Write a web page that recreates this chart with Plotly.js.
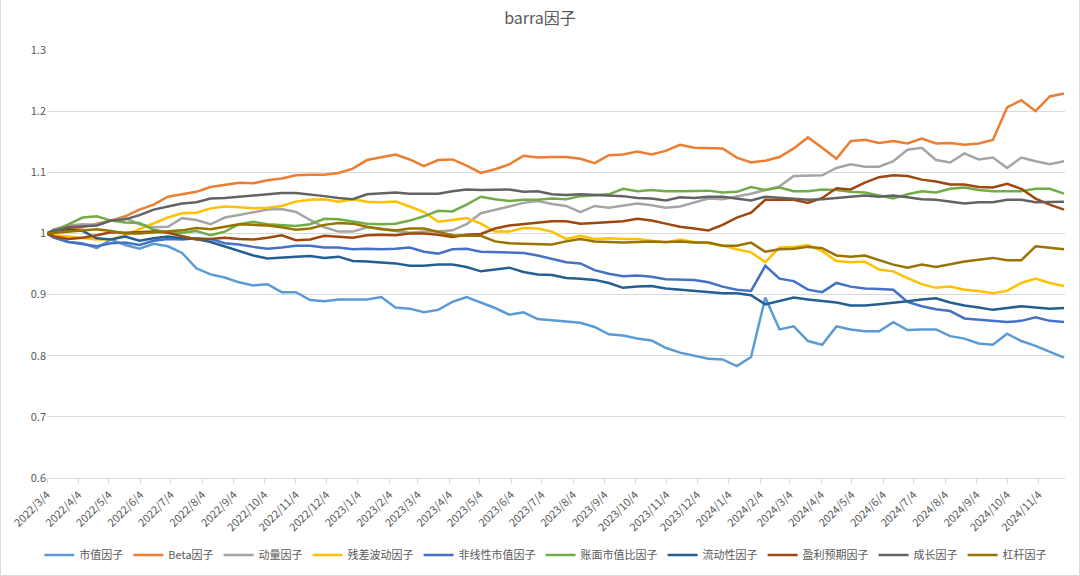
<!DOCTYPE html>
<html>
<head>
<meta charset="utf-8">
<script src="https://cdn.plot.ly/plotly-3.0.1.min.js"></script>
<style>
  body { margin: 0; background: #ffffff; }
  #myDiv { width: 1080px; height: 576px; }
</style>
</head>
<body>
<div id="myDiv"></div>
<script>
var dates = ['2022-03-04','2022-03-11','2022-03-25','2022-04-08','2022-04-22','2022-05-06','2022-05-20','2022-06-03','2022-06-17','2022-07-01',
  '2022-07-15','2022-07-29','2022-08-12','2022-08-26','2022-09-09','2022-09-23','2022-10-07','2022-10-21','2022-11-04','2022-11-18',
  '2022-12-02','2022-12-16','2022-12-30','2023-01-13','2023-01-27','2023-02-10','2023-02-24','2023-03-10','2023-03-24','2023-04-07',
  '2023-04-21','2023-05-05','2023-05-19','2023-06-02','2023-06-16','2023-06-30','2023-07-14','2023-07-28','2023-08-11','2023-08-25',
  '2023-09-08','2023-09-22','2023-10-06','2023-10-20','2023-11-03','2023-11-17','2023-12-01','2023-12-15','2023-12-29','2024-01-12',
  '2024-01-26','2024-02-09','2024-02-23','2024-03-08','2024-03-22','2024-04-05','2024-04-19','2024-05-03','2024-05-17','2024-05-31',
  '2024-06-14','2024-06-28','2024-07-12','2024-07-26','2024-08-09','2024-08-23','2024-09-06','2024-09-20','2024-10-04','2024-10-18',
  '2024-11-01','2024-11-15','2024-11-29'];

var names = ['市值因子','Beta因子','动量因子','残差波动因子','非线性市值因子','账面市值比因子','流动性因子','盈利预期因子','成长因子','杠杆因子'];
var colors = ['#5B9BD5','#ED7D31','#A5A5A5','#FFC000','#4472C4','#70AD47','#255E91','#9E480E','#636363','#997300'];

var size = [1.0,0.993,0.986,0.984,0.976,0.990,0.981,0.975,0.983,0.979,
  0.968,0.943,0.933,0.928,0.920,0.915,0.917,0.904,0.904,0.891,
  0.889,0.892,0.892,0.892,0.896,0.879,0.877,0.871,0.875,0.888,
  0.896,0.887,0.878,0.867,0.871,0.860,0.858,0.857,0.854,0.847,
  0.835,0.833,0.828,0.825,0.813,0.805,0.800,0.795,0.794,0.783,
  0.798,0.895,0.843,0.848,0.824,0.818,0.848,0.843,0.840,0.840,
  0.855,0.842,0.843,0.843,0.832,0.828,0.820,0.818,0.836,0.824,
  0.816,0.807,0.797];

var beta = [1.0,1.002,1.005,1.010,1.016,1.021,1.028,1.039,1.047,1.060,
  1.064,1.068,1.076,1.080,1.083,1.082,1.087,1.090,1.095,1.096,
  1.096,1.099,1.106,1.120,1.125,1.129,1.121,1.110,1.120,1.121,
  1.111,1.099,1.105,1.113,1.127,1.124,1.125,1.125,1.122,1.115,
  1.128,1.129,1.134,1.129,1.135,1.145,1.140,1.139,1.139,1.124,
  1.116,1.119,1.125,1.139,1.157,1.140,1.122,1.151,1.153,1.148,
  1.151,1.147,1.155,1.147,1.148,1.145,1.147,1.153,1.206,1.218,
  1.200,1.224,1.229];

var momentum = [1.0,1.007,1.013,1.015,1.014,1.021,1.025,1.015,1.010,1.011,
  1.025,1.022,1.015,1.026,1.030,1.034,1.039,1.040,1.035,1.022,
  1.010,1.003,1.003,1.010,1.008,1.004,1.001,1.003,1.003,1.005,
  1.015,1.033,1.038,1.044,1.050,1.053,1.048,1.045,1.035,1.045,
  1.042,1.046,1.049,1.046,1.042,1.044,1.051,1.057,1.056,1.060,
  1.065,1.071,1.077,1.094,1.094,1.095,1.107,1.113,1.109,1.109,
  1.118,1.137,1.140,1.120,1.116,1.131,1.121,1.124,1.107,1.124,
  1.118,1.113,1.118];

var residVol = [1.0,0.997,0.995,0.992,0.990,0.990,0.997,1.007,1.017,1.026,
  1.033,1.034,1.041,1.044,1.043,1.041,1.042,1.045,1.052,1.055,
  1.056,1.052,1.056,1.052,1.051,1.052,1.044,1.035,1.019,1.022,
  1.025,1.016,1.003,1.003,1.009,1.008,1.003,0.991,0.996,0.991,
  0.992,0.991,0.991,0.988,0.985,0.990,0.986,0.984,0.980,0.974,
  0.969,0.953,0.977,0.978,0.981,0.971,0.955,0.953,0.954,0.941,
  0.938,0.927,0.917,0.911,0.913,0.908,0.906,0.902,0.906,0.919,
  0.926,0.919,0.914];

var nlSize = [1.0,0.993,0.986,0.983,0.979,0.984,0.985,0.981,0.988,0.991,
  0.990,0.992,0.991,0.984,0.982,0.978,0.975,0.977,0.980,0.980,
  0.977,0.977,0.974,0.975,0.974,0.975,0.977,0.970,0.967,0.974,
  0.975,0.970,0.969,0.968,0.968,0.964,0.958,0.953,0.951,0.940,
  0.934,0.930,0.931,0.929,0.925,0.925,0.924,0.920,0.913,0.908,
  0.906,0.947,0.926,0.922,0.908,0.904,0.919,0.913,0.910,0.909,
  0.908,0.888,0.881,0.876,0.873,0.861,0.859,0.857,0.855,0.857,
  0.863,0.857,0.855];

var bookToPrice = [1.0,1.004,1.015,1.026,1.028,1.021,1.018,1.017,1.006,1.002,
  1.001,1.004,0.997,1.003,1.015,1.019,1.015,1.014,1.012,1.015,
  1.024,1.023,1.020,1.016,1.015,1.016,1.021,1.028,1.037,1.036,
  1.047,1.060,1.056,1.053,1.055,1.055,1.057,1.056,1.061,1.063,
  1.064,1.073,1.069,1.071,1.069,1.069,1.070,1.070,1.067,1.068,
  1.076,1.071,1.075,1.069,1.069,1.072,1.071,1.068,1.067,1.062,
  1.057,1.064,1.069,1.067,1.073,1.075,1.071,1.069,1.069,1.069,
  1.073,1.073,1.065];

var liquidity = [1.0,1.005,1.007,1.004,0.992,0.990,0.995,0.988,0.992,0.995,
  0.992,0.991,0.986,0.979,0.972,0.964,0.959,0.961,0.962,0.963,
  0.960,0.962,0.955,0.954,0.952,0.951,0.947,0.947,0.949,0.949,
  0.945,0.938,0.941,0.944,0.937,0.933,0.932,0.927,0.926,0.924,
  0.919,0.911,0.913,0.914,0.910,0.908,0.906,0.904,0.902,0.902,
  0.899,0.884,0.889,0.895,0.892,0.889,0.887,0.882,0.882,0.884,
  0.886,0.889,0.892,0.894,0.887,0.882,0.879,0.875,0.878,0.881,
  0.879,0.877,0.878];

var earnings = [1.0,0.995,0.991,0.993,0.997,1.002,1.001,1.002,1.003,1.001,
  0.995,0.990,0.991,0.993,0.991,0.990,0.993,0.997,0.989,0.990,
  0.996,0.994,0.993,0.997,0.998,0.997,1.000,1.000,0.998,0.994,
  0.998,0.999,1.008,1.013,1.015,1.017,1.020,1.020,1.016,1.017,
  1.019,1.020,1.024,1.021,1.016,1.011,1.008,1.005,1.014,1.026,
  1.034,1.055,1.055,1.055,1.050,1.058,1.074,1.072,1.083,1.092,
  1.095,1.094,1.088,1.085,1.080,1.080,1.076,1.075,1.081,1.073,
  1.057,1.047,1.039];

var growth = [1.0,1.004,1.010,1.011,1.013,1.021,1.023,1.030,1.039,1.044,
  1.049,1.051,1.057,1.058,1.060,1.062,1.063,1.066,1.066,1.064,
  1.061,1.058,1.056,1.064,1.065,1.067,1.065,1.065,1.065,1.069,
  1.072,1.071,1.071,1.072,1.068,1.069,1.064,1.063,1.064,1.063,
  1.061,1.061,1.058,1.057,1.054,1.059,1.058,1.060,1.060,1.057,
  1.054,1.060,1.058,1.056,1.055,1.056,1.058,1.061,1.062,1.060,
  1.062,1.059,1.056,1.055,1.052,1.049,1.051,1.051,1.055,1.055,
  1.051,1.051,1.052];

var leverage = [1.0,1.001,1.003,1.005,1.007,1.004,1.000,1.000,1.002,1.003,
  1.005,1.009,1.007,1.011,1.015,1.014,1.013,1.010,1.006,1.008,
  1.014,1.017,1.016,1.011,1.007,1.005,1.008,1.008,1.002,0.997,
  0.996,0.996,0.987,0.984,0.983,0.983,0.982,0.987,0.991,0.987,
  0.986,0.985,0.986,0.987,0.986,0.987,0.985,0.985,0.980,0.980,
  0.985,0.970,0.974,0.975,0.978,0.976,0.964,0.962,0.964,0.957,
  0.949,0.944,0.949,0.945,0.950,0.954,0.957,0.960,0.956,0.956,
  0.979,0.977,0.974];

var series = [size, beta, momentum, residVol, nlSize, bookToPrice, liquidity, earnings, growth, leverage];

var data = [];
for (var i = 0; i < series.length; i++) {
  data.push({
    x: dates,
    y: series[i],
    name: names[i],
    type: 'scatter',
    mode: 'lines',
    line: {color: colors[i], width: 2.5}
  });
}

var layout = {
  width: 1080,
  height: 576,
  margin: {l: 47, r: 15, t: 50, b: 98, autoexpand: false},
  paper_bgcolor: '#ffffff',
  plot_bgcolor: '#ffffff',
  font: {family: '"Noto Sans CJK SC", "Noto Sans", sans-serif', color: '#595959', size: 11},
  title: {
    text: 'barra因子',
    x: 0.5,
    xref: 'container',
    y: 0.968,
    yref: 'container',
    yanchor: 'middle',
    font: {size: 16, color: '#595959'}
  },
  showlegend: true,
  legend: {
    orientation: 'h',
    x: 0.49,
    xanchor: 'center',
    y: -0.18,
    yanchor: 'middle',
    font: {size: 11, color: '#595959'},
    itemwidth: 30
  },
  xaxis: {
    type: 'date',
    automargin: false,
    range: ['2022-03-04', '2024-11-30'],
    tick0: '2022-03-04',
    dtick: 'M1',
    tickformat: '%Y/%-m/%-d',
    tickangle: -45,
    ticks: 'outside',
    ticklen: 5,
    tickcolor: '#D9D9D9',
    showline: true,
    linecolor: '#D9D9D9',
    linewidth: 1,
    showgrid: false,
    zeroline: false,
    tickfont: {size: 11, color: '#595959'}
  },
  yaxis: {
    automargin: false,
    range: [0.6, 1.3],
    dtick: 0.1,
    tick0: 0.6,
    showgrid: true,
    gridcolor: '#D9D9D9',
    gridwidth: 1,
    zeroline: false,
    showline: false,
    ticks: '',
    tickfont: {size: 11, color: '#595959'}
  },
  shapes: [{
    type: 'rect',
    xref: 'paper', yref: 'paper',
    x0: -0.0457, x1: 1.0143,
    y0: -0.2278, y1: 1.1671,
    line: {color: '#D9D9D9', width: 1},
    fillcolor: 'rgba(0,0,0,0)',
    layer: 'below'
  }]
};

Plotly.newPlot('myDiv', data, layout, {displayModeBar: false});
</script>
</body>
</html>
